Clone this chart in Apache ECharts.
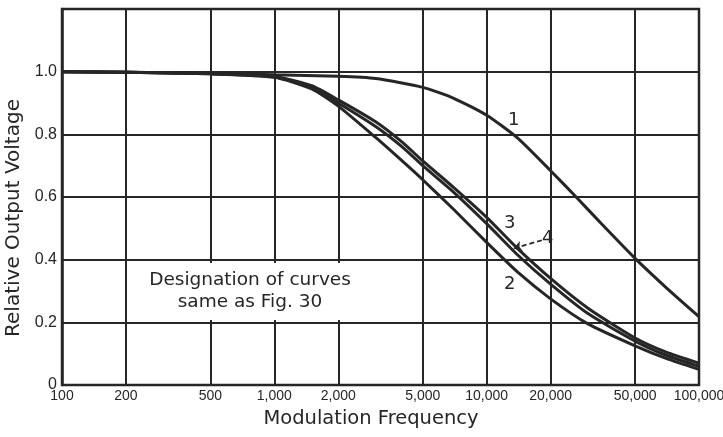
<!DOCTYPE html>
<html>
<head>
<meta charset="utf-8">
<script src="https://cdn.jsdelivr.net/npm/echarts@6/dist/echarts.min.js"></script>
<style>
html,body{margin:0;padding:0;background:#fff;}
#chart{width:723px;height:437px;}
</style>
</head>
<body>
<div id="chart"></div>
<script>
// ---- data ----
const freqTicks = [100, 200, 500, 1000, 2000, 5000, 10000, 20000, 50000, 100000];
const freqTickLabels = ['100', '200', '500', '1,000', '2,000', '5,000', '10,000', '20,000', '50,000', '100,000'];

const curve1Freq = [100, 200, 500, 1000, 2000, 3000, 5000, 7000, 10000, 14000, 20000, 27000, 35000, 50000, 70000, 100000];
const curve1Val  = [1.0, 0.998, 0.995, 0.99, 0.985, 0.978, 0.95, 0.915, 0.861, 0.788, 0.684, 0.593, 0.512, 0.404, 0.311, 0.218];

const curve3Freq = [100, 200, 500, 1000, 1500, 2000, 3000, 4000, 5000, 7000, 10000, 14000, 20000, 30000, 50000, 70000, 100000];
const curve3Val  = [1.0, 0.998, 0.994, 0.985, 0.955, 0.91, 0.84, 0.775, 0.715, 0.63, 0.535, 0.435, 0.34, 0.245, 0.15, 0.105, 0.07];

const curve4Freq = [100, 200, 500, 1000, 1500, 2000, 3000, 4000, 5000, 7000, 10000, 14000, 20000, 30000, 50000, 70000, 100000];
const curve4Val  = [1.0, 0.998, 0.993, 0.983, 0.95, 0.90, 0.825, 0.76, 0.70, 0.615, 0.515, 0.415, 0.322, 0.228, 0.14, 0.095, 0.06];

const curve2Freq = [100, 200, 500, 1000, 1500, 2000, 3000, 4000, 5000, 7000, 10000, 14000, 20000, 30000, 50000, 70000, 100000];
const curve2Val  = [1.0, 0.998, 0.993, 0.982, 0.945, 0.89, 0.79, 0.715, 0.655, 0.56, 0.455, 0.36, 0.275, 0.195, 0.125, 0.085, 0.05];

const labelPos = { '1': [13400, 0.845], '3': [12850, 0.515], '4': [19400, 0.469], '2': [12850, 0.32] };
const arrow4 = [[18200, 0.462], [13400, 0.436]];

const yTitle = 'Relative Output Voltage';
const xTitle = 'Modulation Frequency';
const note = ['Designation of curves', 'same as Fig. 30'];

// ---- build ----
const ink = '#262626';
function pairs(f, v) { return f.map((x, i) => [x, v[i]]); }

function curveSeries(name, f, v) {
  return {
    name: name, type: 'line', data: pairs(f, v), showSymbol: false, smooth: 0.2,
    lineStyle: { color: ink, width: 3 }, z: 5, silent: true,
    markPoint: {
      symbol: 'circle', symbolSize: 1, itemStyle: { color: 'rgba(0,0,0,0)' },
      label: { show: true, position: 'inside', color: ink, fontSize: 18, fontFamily: 'DejaVu Sans', formatter: name },
      data: [{ coord: labelPos[name] }]
    }
  };
}

const chart = echarts.init(document.getElementById('chart'), null, { renderer: 'canvas' });
const option = {
  backgroundColor: '#fff',
  animation: false,
  grid: { left: 62, right: 24, top: 9, bottom: 52, show: true, borderColor: ink, borderWidth: 2.5, backgroundColor: 'transparent' },
  xAxis: {
    type: 'log', logBase: 10, min: 100, max: 100000,
    axisLine: { show: false }, axisTick: { show: false }, axisLabel: { show: false }, splitLine: { show: false }
  },
  yAxis: {
    type: 'value', min: 0, max: 1.2, interval: 0.2,
    axisLine: { show: true, lineStyle: { color: ink, width: 2.5 } },
    axisTick: { show: false },
    splitLine: { show: true, lineStyle: { color: ink, width: 2 } },
    axisLabel: {
      color: ink, fontSize: 16, fontFamily: 'Liberation Sans', margin: 5,
      formatter: function (v) { if (v === 0) return '0'; if (v > 1.1) return ''; return v.toFixed(1); }
    }
  },
  series: [
    {
      name: 'grid', type: 'line', data: [[100, 0]], showSymbol: false, silent: true,
      lineStyle: { opacity: 0 },
      markLine: {
        silent: true, symbol: 'none', animation: false,
        lineStyle: { color: ink, width: 2, type: 'solid' },
        label: { show: true, position: 'start', distance: 4, color: ink, fontSize: 14,
                 fontFamily: 'Liberation Sans', formatter: '{b}' },
        data: freqTicks.map((v, i) => ({ xAxis: v, name: freqTickLabels[i] }))
      }
    },
    curveSeries('1', curve1Freq, curve1Val),
    curveSeries('3', curve3Freq, curve3Val),
    curveSeries('4', curve4Freq, curve4Val),
    curveSeries('2', curve2Freq, curve2Val)
  ],
  graphic: [
    { type: 'rect', z: 100, shape: { x: 132, y: 263, width: 226, height: 57 }, style: { fill: '#fff' } },
    { type: 'text', z: 101, x: 250, y: 280, style: { text: note[0], textAlign: 'center', textVerticalAlign: 'middle', fill: ink, font: '18.5px "DejaVu Sans"' } },
    { type: 'text', z: 101, x: 250, y: 302, style: { text: note[1], textAlign: 'center', textVerticalAlign: 'middle', fill: ink, font: '18.5px "DejaVu Sans"' } },
    { type: 'text', z: 101, x: 14, y: 218, rotation: Math.PI / 2, style: { text: yTitle, textAlign: 'center', textVerticalAlign: 'middle', fill: ink, font: '20px "DejaVu Sans"' } },
    { type: 'text', z: 101, x: 371, y: 419, style: { text: xTitle, textAlign: 'center', textVerticalAlign: 'middle', fill: ink, font: '19.5px "DejaVu Sans"' } }
  ]
};
// dashed arrow pointing at curve 4
option.series[3].markLine = {
  silent: true, symbol: ['none', 'arrow'], symbolSize: 8,
  lineStyle: { color: ink, width: 1.8, type: [5, 3] },
  label: { show: false },
  data: [[{ coord: arrow4[0] }, { coord: arrow4[1] }]]
};
chart.setOption(option);
</script>
</body>
</html>
